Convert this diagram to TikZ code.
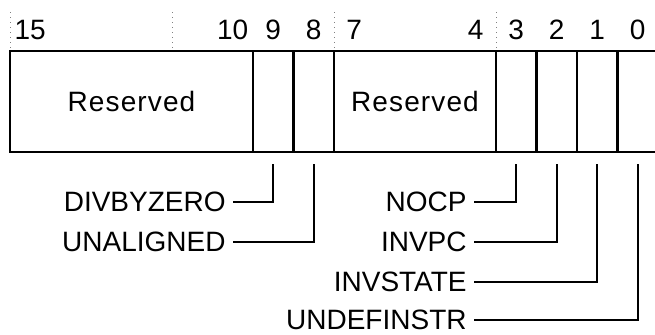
\documentclass[tikz,border=0pt]{standalone}
\usepackage{fontspec}
\setmainfont{Liberation Sans}
\newfontfamily\spacedfont[LetterSpace=4]{Liberation Sans}
\usepackage{tikz}
\usetikzlibrary{positioning}

\tikzset{
  cell/.style={draw, line width=1.2pt, minimum height=50.5pt, inner sep=0pt},
  bitnum/.style={anchor=base, inner sep=0pt},
  flag/.style={anchor=east, inner sep=0pt},
  lead/.style={line width=0.8pt, shorten <=3.5pt},
  guide/.style={gray, dotted, line width=0.5pt}
}

\begin{document}
\begin{tikzpicture}[x=0.5pt, y=-0.5pt, font=\fontsize{14pt}{16pt}\selectfont]
  \useasboundingbox (0,0) rectangle (655,334);

  % Field boundaries above the register
  \foreach \xg in {10,172,334,496}
    \draw[guide] (\xg,12) -- (\xg,51);

  % Bit numbers
  \foreach \bit/\xb in {15/30.25, 10/232.75, 9/273.25, 8/313.75, 7/354.25, 4/475.75, 3/516.25, 2/556.75, 1/597.25, 0/637.75}
    \node[bitnum] (n\bit) at (\xb,39) {\bit};

  % Register fields
  \node[cell, minimum width=121.5pt] (res1) at (131.5,101.5) {\spacedfont Reserved};
  \node[cell, minimum width=20.25pt] (b9) at (273.25,101.5) {};
  \node[cell, minimum width=20.25pt] (b8) at (313.75,101.5) {};
  \node[cell, minimum width=81pt] (res2) at (415,101.5) {\spacedfont Reserved};
  \node[cell, minimum width=20.25pt] (b3) at (516.25,101.5) {};
  \node[cell, minimum width=20.25pt] (b2) at (556.75,101.5) {};
  \node[cell, minimum width=20.25pt] (b1) at (597.25,101.5) {};
  \node[cell, minimum width=20.25pt] (b0) at (637.75,101.5) {};

  % Flag names
  \node[flag] (divbyzero) at (226,202) {DIVBYZERO};
  \node[flag] (unaligned) at (226,242) {UNALIGNED};
  \node[flag] (nocp) at (467,202) {NOCP};
  \node[flag] (invpc) at (467,242) {INVPC};
  \node[flag] (invstate) at (467,282) {INVSTATE};
  \node[flag] (undefinstr) at (467,320) {UNDEFINSTR};

  % Leaders to the bits
  \draw[lead] (divbyzero.east) -| ([yshift=-5.5pt]b9.south);
  \draw[lead] (unaligned.east) -| ([yshift=-5.5pt]b8.south);
  \draw[lead] (nocp.east) -| ([yshift=-5.5pt]b3.south);
  \draw[lead] (invpc.east) -| ([yshift=-5.5pt]b2.south);
  \draw[lead] (invstate.east) -| ([yshift=-5.5pt]b1.south);
  \draw[lead] (undefinstr.east) -| ([yshift=-5.5pt]b0.south);
\end{tikzpicture}
\end{document}
